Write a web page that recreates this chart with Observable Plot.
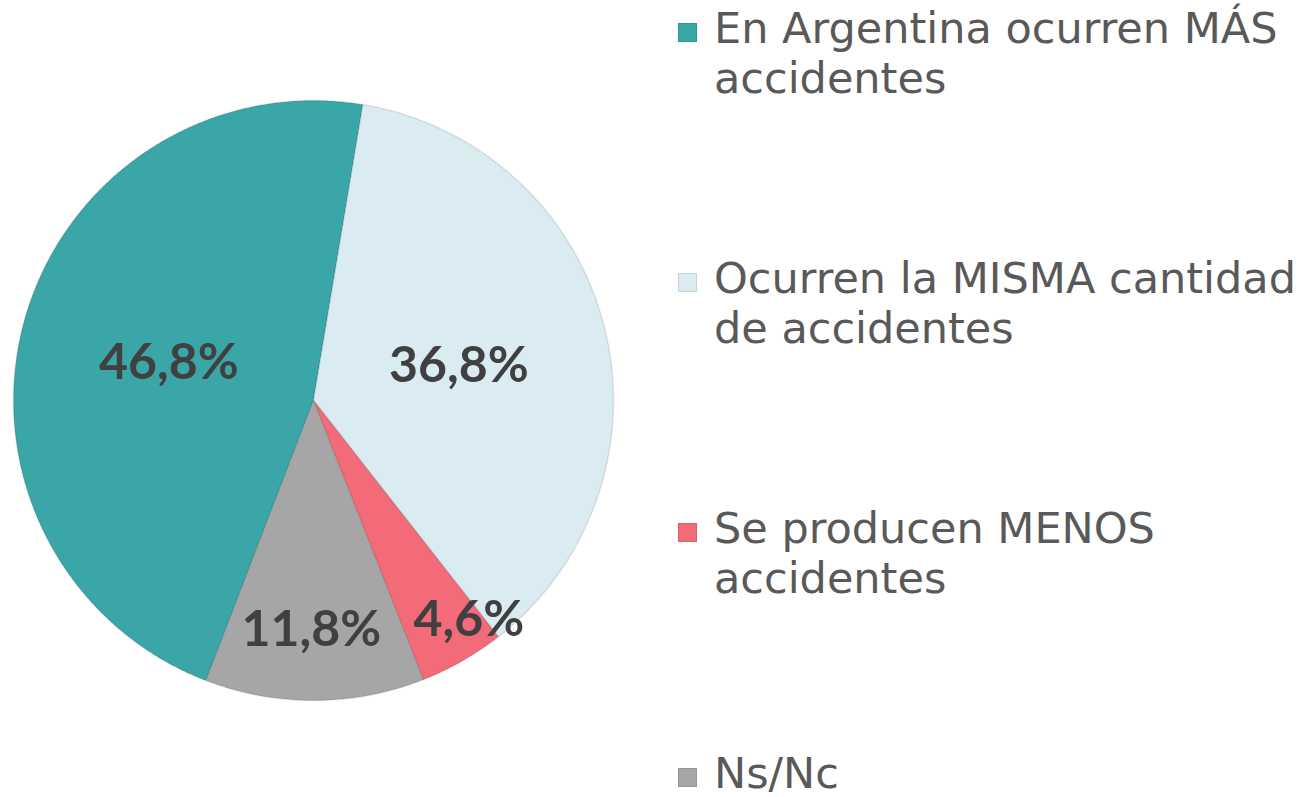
<!DOCTYPE html>
<html>
<head>
<meta charset="utf-8">
<script src="https://cdn.jsdelivr.net/npm/d3@7"></script>
<script src="https://cdn.jsdelivr.net/npm/@observablehq/plot@0.6"></script>
<style>
  html, body { margin: 0; padding: 0; background: #fff; overflow: hidden; }
  #wrap { position: relative; width: 1309px; height: 797px; }
  #chart { position: absolute; left: 0; top: 0; }
  #legend { position: absolute; left: 678px; top: 0; width: 631px; font-family: "DejaVu Sans", sans-serif; color: #595959; }
  .item { position: absolute; left: 0; width: 631px; }
  .sw { position: absolute; left: 0; top: 20px; width: 19px; height: 19px; box-sizing: border-box; }
  .lab { position: absolute; left: 36px; top: 0; width: 595px; font-size: 43px; line-height: 50px; white-space: normal; }
</style>
</head>
<body>
<div id="wrap">
  <div id="chart"></div>
  <div id="legend"></div>
</div>
<script>
const categories = [
  "En Argentina ocurren MÁS accidentes",
  "Ocurren la MISMA cantidad de accidentes",
  "Se producen MENOS accidentes",
  "Ns/Nc"
];
const values = [46.8, 36.8, 4.6, 11.8];
const colors = ["#3aa6a8", "#daebf1", "#f36a79", "#a6a6a6"];
const firstSliceAngle = 201; // degrees, clockwise from top

// label placement (radius fraction, angular shift in degrees), like Excel "best fit"
const labelPlacement = [{r: 0.5, da: 0}, {r: 0.5, da: 0}, {r: 0.89, da: -5.8}, {r: 0.76, da: 0.8}];

const total = d3.sum(values);
const pts = [];
const labels = [];
let a0 = firstSliceAngle;
values.forEach((v, i) => {
  const a1 = a0 + v / total * 360;
  const cat = categories[i];
  pts.push({cat, x: 0, y: 0});
  const n = Math.ceil((a1 - a0) / 0.5);
  for (let k = 0; k <= n; k++) {
    const a = (a0 + (a1 - a0) * k / n) * Math.PI / 180;
    pts.push({cat, x: Math.sin(a), y: Math.cos(a)});
  }
  pts.push({cat, x: 0, y: 0});
  const p = labelPlacement[i];
  const am = ((a0 + a1) / 2 + p.da) * Math.PI / 180;
  labels.push({cat, x: p.r * Math.sin(am), y: p.r * Math.cos(am), text: v.toFixed(1).replace(".", ",") + "%"});
  a0 = a1;
});

const chart = Plot.plot({
  width: 626,
  height: 797,
  marginLeft: 13,
  marginRight: 13,
  marginTop: 100,
  marginBottom: 97,
  x: {domain: [-1, 1], axis: null},
  y: {domain: [-1, 1], axis: null},
  color: {domain: categories, range: colors},
  style: {background: "transparent", overflow: "visible"},
  marks: [
    Plot.line(pts, {x: "x", y: "y", z: "cat", fill: "cat", stroke: "#000", strokeOpacity: 0.1, strokeWidth: 1.5, curve: "linear"}),
    Plot.text(labels, {x: "x", y: "y", text: "text", fontSize: 50, fontWeight: "bold", fill: "#404040", fontFamily: "Lato", dy: 2})
  ]
});
document.getElementById("chart").appendChild(chart);

const legend = document.getElementById("legend");
categories.forEach((c, i) => {
  const item = document.createElement("div");
  item.className = "item";
  item.style.top = (3 + i * 250 - (i === categories.length - 1 ? 5 : 0)) + "px";
  const sw = document.createElement("div");
  sw.className = "sw";
  sw.style.background = colors[i];
  sw.style.border = "1px solid " + d3.color(colors[i]).darker(0.3);
  const lab = document.createElement("div");
  lab.className = "lab";
  lab.textContent = c;
  item.appendChild(sw);
  item.appendChild(lab);
  legend.appendChild(item);
});
</script>
</body>
</html>
